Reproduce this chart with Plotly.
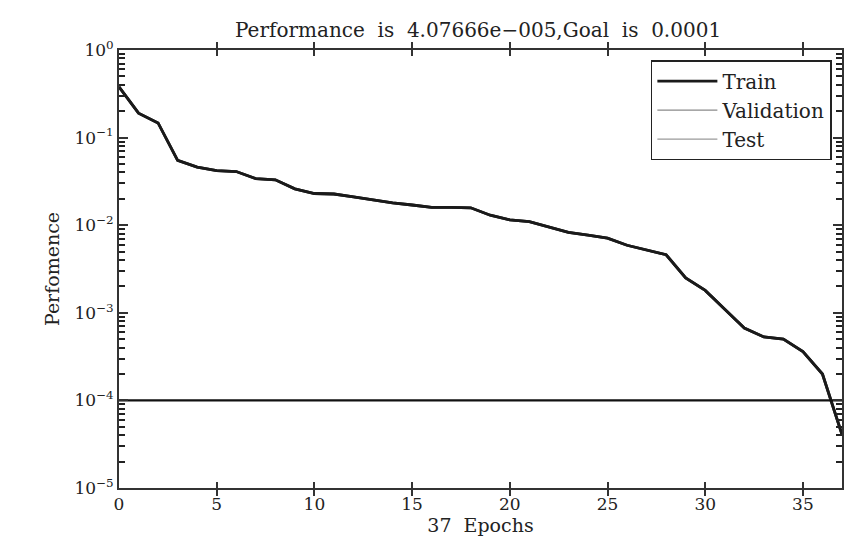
import plotly.graph_objects as go

epochs = list(range(0, 38))
train = [0.38, 0.19, 0.147, 0.055, 0.046, 0.042, 0.041, 0.034, 0.033, 0.026,
         0.023, 0.0227, 0.021, 0.0194, 0.018, 0.017, 0.016, 0.016, 0.0158, 0.013,
         0.0115, 0.011, 0.0095, 0.0083, 0.0077, 0.0071, 0.0059, 0.0052, 0.0046, 0.0025,
         0.0018, 0.0011, 0.00067, 0.00053, 0.0005, 0.00036, 0.0002, 4.07666e-5]
validation = train
test = train
goal = 1e-4

y_tickvals = [1, 0.1, 0.01, 0.001, 1e-4, 1e-5]
y_ticktext = ["10<sup>0</sup>", "10<sup>−1</sup>", "10<sup>−2</sup>", "10<sup>−3</sup>", "10<sup>−4</sup>", "10<sup>−5</sup>"]
x_tickvals = [0, 5, 10, 15, 20, 25, 30, 35]
minor_vals = [m * 10.0 ** e for e in range(-5, 0) for m in range(2, 10)]

FONT = "DejaVu Serif"
TXT = "#222222"
AX = "#333333"

fig = go.Figure()
fig.add_trace(go.Scatter(x=epochs, y=train, mode="lines", name="Train", legendrank=1,
                         line=dict(color="#1a1a1a", width=2.8)))
fig.add_trace(go.Scatter(x=epochs, y=validation, mode="lines", name="Validation", legendrank=2,
                         line=dict(color="#8a8a8a", width=1.2)))
fig.add_trace(go.Scatter(x=epochs, y=test, mode="lines", name="Test", legendrank=3,
                         line=dict(color="#9a9a9a", width=1.2)))
fig.add_trace(go.Scatter(x=epochs, y=train, mode="lines", showlegend=False,
                         line=dict(color="#1a1a1a", width=2.8)))
fig.add_trace(go.Scatter(x=[epochs[0], epochs[-1]], y=[goal, goal], mode="lines",
                         name="Goal", showlegend=False, yaxis="y2",
                         line=dict(color="#111111", width=2.2)))

fig.update_layout(
    width=847, height=541,
    margin=dict(l=111, r=13, t=42, b=61),
    paper_bgcolor="white", plot_bgcolor="white",
    font=dict(family=FONT, size=17, color=TXT),
    title=dict(text="Performance  is  4.07666e−005,Goal  is  0.0001",
               x=0.555, xanchor="center", y=0.96, yanchor="middle",
               font=dict(family=FONT, size=20, color=TXT)),
    showlegend=True,
    legend=dict(x=0.986, y=0.977, xanchor="right", yanchor="top",
                bordercolor="#222222", borderwidth=1.5, bgcolor="white",
                font=dict(family=FONT, size=20, color=TXT),
                traceorder="normal", tracegroupgap=0, itemwidth=60),
    xaxis=dict(range=[0, 37], tickvals=x_tickvals, ticks="inside", ticklen=6,
               tickwidth=1.5, tickcolor=AX,
               showline=True, linecolor=AX, linewidth=1.8, mirror="allticks",
               showgrid=False, zeroline=False,
               title=dict(text="37  Epochs", standoff=2,
                          font=dict(family=FONT, size=19, color=TXT))),
    yaxis=dict(type="log", range=[-5, 0], tickvals=y_tickvals, ticktext=y_ticktext,
               ticks="inside", ticklen=9, tickwidth=1.8, tickcolor=AX,
               showline=True, linecolor=AX,
               linewidth=1.8, mirror="allticks", showgrid=False, zeroline=False,
               title=dict(text="Perfomence", standoff=10,
                          font=dict(family=FONT, size=19, color=TXT))),
    yaxis2=dict(type="log", range=[-5, 0], overlaying="y", side="left", anchor="x",
                tickmode="array", tickvals=minor_vals, showticklabels=False,
                ticks="inside", ticklen=6, tickcolor="#222222", tickwidth=1.8,
                showline=True, linecolor=AX, linewidth=1.8,
                mirror="allticks", showgrid=False, zeroline=False),
)

fig.write_html("out.html")
